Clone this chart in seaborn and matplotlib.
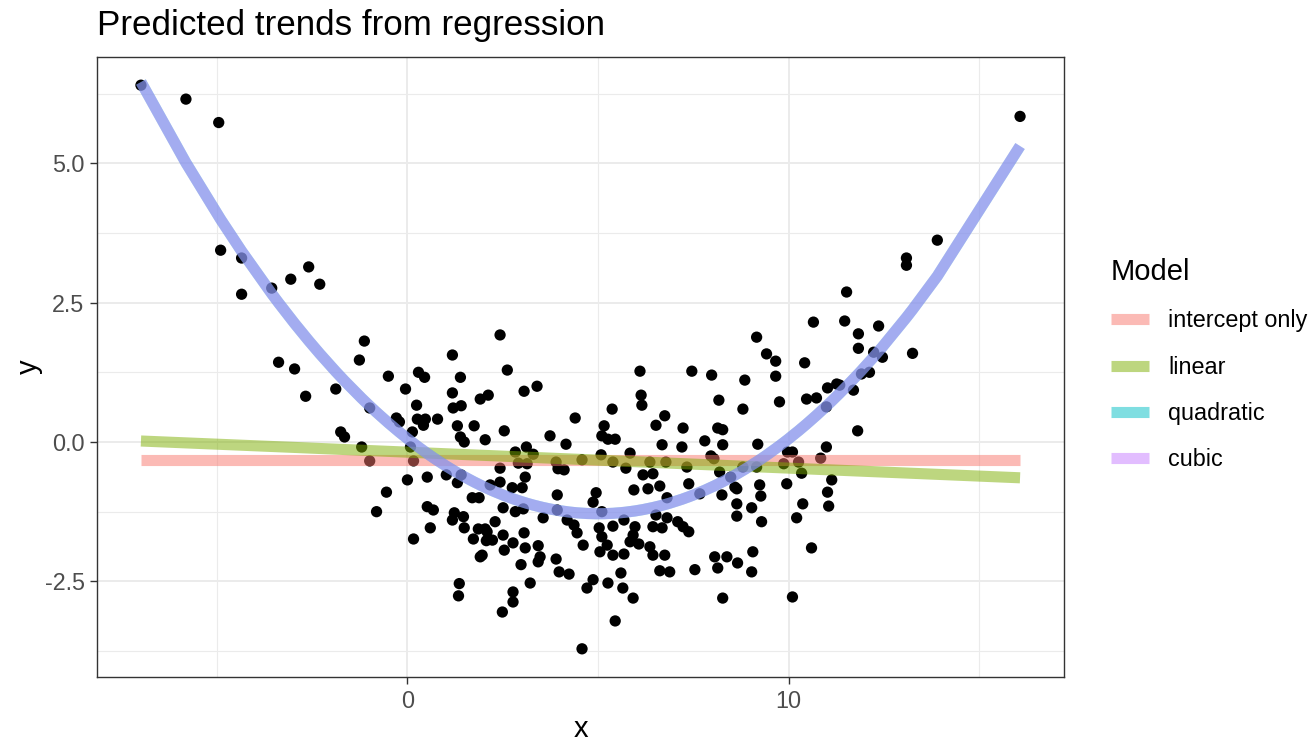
import numpy as np
import pandas as pd
import matplotlib
matplotlib.use("Agg")
import matplotlib.pyplot as plt
import seaborn as sns
from matplotlib.lines import Line2D

# ----------------------------------------------------
# Data
# ----------------------------------------------------
x_obs = [
    # far left, upper arm
    -6.99, -5.81, -4.95, -4.90, -4.35, -4.35, -3.56, -3.06, -2.59, -2.30, -3.38, -2.96, -2.67,
    # x -2..2, upper part of the cloud
    -1.13, -1.26, -1.88, -0.50, 0.29, 0.45, -0.05, 1.18, 1.39, 1.18, 1.91, 2.12, 0.24, 1.20,
    1.41, -0.99, -0.29, -0.21, 0.26, 0.47, 0.42, 0.79, 1.31, 1.75, 0.13, -1.75, -1.65, -1.20,
    0.08, 1.39, 1.49, 2.04, -0.99, 0.16, 0.00, 0.52, 1.02, 1.31, 1.41, -0.55, 2.17,
    # x 2..7, upper part
    2.43, 2.62, 3.06, 3.40, 4.40, 2.54, 3.74, 4.16, 6.10, 6.13, 6.15, 5.37, 6.75, 6.52,
    5.16, 5.10, 5.26, 5.45, 6.68, 2.83, 3.12, 3.30, 5.08, 5.84, 2.91, 3.14, 2.43, 3.90,
    3.95, 4.11, 4.58, 5.39, 5.73, 6.36, 6.78, 3.09, 2.43, 6.18, 6.44, 2.75, 3.01, 3.93,
    4.95, 5.94, 6.62, 6.31,
    # x 7..11, upper part
    10.65, 9.16, 9.42, 9.66, 10.42, 7.46, 7.98, 8.85, 9.66, 8.17, 8.80, 9.76, 10.47, 10.73,
    11.02, 11.26, 10.99, 7.23, 8.14, 8.27, 7.20, 7.80, 8.27, 9.19, 9.97, 10.10, 10.99, 7.33,
    7.96, 8.04, 8.19, 8.80, 9.16, 9.87, 10.26, 10.84, 10.34, 8.48, 11.13, 7.38, 8.59, 9.24,
    9.95, 11.02, 7.67, 8.25,
    # x -1..2, lower part
    -0.81, 0.52, 0.68, 0.60, 0.16, 1.18, 1.23, 1.47, 1.49, 1.70, 1.88, 1.86, 2.04, 1.73,
    2.07, 1.91, 1.36, 1.34,
    # x 2..7, lower part
    2.51, 2.83, 3.04, 2.30, 2.09, 2.23, 2.51, 1.96, 2.54, 2.77, 3.06, 3.09, 3.43, 3.48,
    3.43, 2.98, 3.22, 2.77, 2.77, 2.49, 3.56, 3.93, 4.19, 4.37, 4.45, 3.90, 3.98, 4.24,
    4.61, 4.71, 4.87, 4.87, 5.10, 5.03, 5.10, 5.24, 5.05, 5.39, 5.39, 5.68, 5.68, 5.97,
    5.92, 5.84, 6.07, 5.60, 5.26, 5.65, 5.92, 5.45, 4.58, 6.36, 6.44, 6.75, 6.44, 6.68,
    6.62, 6.88, 6.52, 6.81,
    # x 7..11, lower part
    8.64, 8.64, 8.64, 9.03, 9.27, 9.29, 6.81, 7.09, 7.23, 7.38, 7.54, 8.06, 8.38, 8.14,
    8.66, 9.06, 9.03, 8.27, 10.37, 10.21, 11.05, 10.60, 10.10,
    # far right, upper arm
    16.07, 13.90, 13.09, 13.09, 11.52, 11.47, 11.83, 12.36, 11.83, 12.23, 12.46, 13.25,
    11.91, 12.12, 11.34, 11.70, 11.81,
]
y_obs = [
    # far left, upper arm
    6.40, 6.15, 5.73, 3.44, 3.30, 2.65, 2.76, 2.92, 3.14, 2.83, 1.43, 1.31, 0.82,
    # x -2..2, upper part of the cloud
    1.81, 1.47, 0.95, 1.18, 1.25, 1.16, 0.95, 1.56, 1.16, 0.88, 0.77, 0.84, 0.66, 0.61,
    0.65, 0.61, 0.43, 0.36, 0.41, 0.41, 0.30, 0.41, 0.29, 0.29, 0.18, 0.18, 0.09, -0.09,
    -0.09, 0.09, 0.00, 0.04, -0.34, -0.34, -0.68, -0.63, -0.59, -0.73, -0.59, -0.90, -0.77,
    # x 2..7, upper part
    1.92, 1.29, 0.91, 1.00, 0.43, 0.20, 0.11, -0.04, 1.27, 0.84, 0.66, 0.59, 0.47, 0.30,
    0.29, 0.11, 0.05, 0.05, -0.05, -0.18, -0.09, -0.22, -0.23, -0.20, -0.38, -0.39, -0.47, -0.36,
    -0.48, -0.50, -0.32, -0.36, -0.47, -0.36, -0.36, -0.63, -0.72, -0.59, -0.57, -0.82, -0.82, -0.95,
    -0.91, -0.86, -0.79, -0.84,
    # x 7..11, upper part
    2.15, 1.88, 1.58, 1.45, 1.42, 1.27, 1.20, 1.11, 1.18, 0.75, 0.59, 0.72, 0.77, 0.79,
    0.97, 1.04, 0.63, 0.25, 0.25, 0.22, -0.09, 0.02, -0.05, -0.04, -0.18, -0.18, -0.09, -0.45,
    -0.25, -0.30, -0.54, -0.45, -0.45, -0.39, -0.36, -0.29, -0.56, -0.63, -0.68, -0.75, -0.81, -0.77,
    -0.75, -0.90, -0.93, -0.95,
    # x -1..2, lower part
    -1.25, -1.16, -1.22, -1.54, -1.74, -1.40, -1.27, -1.34, -1.54, -1.00, -1.00, -1.56, -1.56, -1.74,
    -1.77, -2.06, -2.54, -2.76,
    # x 2..7, lower part
    -1.18, -1.25, -1.20, -1.43, -1.61, -1.76, -1.67, -2.03, -1.94, -1.81, -1.63, -1.90, -1.86, -2.06,
    -2.15, -2.20, -2.53, -2.69, -2.87, -3.05, -1.36, -1.22, -1.40, -1.49, -1.63, -2.10, -2.33, -2.37,
    -1.85, -2.62, -2.47, -1.08, -1.25, -1.54, -1.70, -1.85, -1.97, -2.03, -1.51, -1.40, -2.01, -1.52,
    -1.67, -1.79, -1.83, -2.35, -2.53, -2.62, -2.80, -3.21, -3.71, -1.88, -2.03, -2.03, -1.52, -1.54,
    -2.31, -2.33, -1.31, -1.00,
    # x 7..11, lower part
    -0.84, -1.11, -1.33, -1.18, -0.97, -1.43, -1.36, -1.43, -1.52, -1.61, -2.29, -2.06, -2.06, -2.26,
    -2.17, -1.97, -2.33, -2.80, -1.11, -1.36, -1.15, -1.90, -2.78,
    # far right, upper arm
    5.84, 3.62, 3.30, 3.17, 2.69, 2.17, 1.94, 2.08, 1.68, 1.61, 1.52, 1.59,
    1.22, 1.25, 1.02, 0.93, 0.20,
]

model_names = ["intercept only", "linear", "quadratic", "cubic"]
model_degrees = [0, 1, 2, 3]
model_colors = ["#F8766D", "#7CAE00", "#00BFC4", "#C77CFF"]

x_major = [0, 10]
x_major_labels = ["0", "10"]
x_minor = [-5, 5, 15]
y_major = [-2.5, 0.0, 2.5, 5.0]
y_major_labels = ["-2.5", "0.0", "2.5", "5.0"]
y_minor = [-3.75, -1.25, 1.25, 3.75, 6.25]

df = pd.DataFrame({"x": x_obs, "y": y_obs})

# Predicted values of each polynomial model at the observed x
frames = []
for name, deg in zip(model_names, model_degrees):
    coefs = np.polyfit(df["x"], df["y"], deg)
    frames.append(pd.DataFrame({"x": df["x"], "y": np.polyval(coefs, df["x"]), "Model": name}))
pred = pd.concat(frames, ignore_index=True)

# ----------------------------------------------------
# Plot
# ----------------------------------------------------
sns.set_style("white")
plt.rcParams["font.family"] = ["Liberation Sans", "DejaVu Sans"]
plt.rcParams["text.color"] = "black"

W, H = 1313, 745
fig = plt.figure(figsize=(W / 100, H / 100), dpi=100)
ax = fig.add_axes([97 / W, 1 - 677 / H, (1064 - 97) / W, (677 - 57) / H])

sns.scatterplot(data=df, x="x", y="y", color="black", s=66, edgecolor="none",
                linewidth=0, ax=ax, zorder=2)
sns.lineplot(data=pred, x="x", y="y", hue="Model", hue_order=model_names,
             palette=model_colors, linewidth=8, alpha=0.5, estimator=None,
             legend=False, solid_capstyle="butt", ax=ax, zorder=3)

xr = df["x"].max() - df["x"].min()
yr = df["y"].max() - df["y"].min()
ax.set_xlim(df["x"].min() - 0.05 * xr, df["x"].max() + 0.05 * xr)
ax.set_ylim(df["y"].min() - 0.05 * yr, df["y"].max() + 0.05 * yr)

ax.set_xticks(x_major)
ax.set_xticklabels(x_major_labels)
ax.set_xticks(x_minor, minor=True)
ax.set_yticks(y_major)
ax.set_yticklabels(y_major_labels)
ax.set_yticks(y_minor, minor=True)

ax.grid(which="major", color="#EBEBEB", linewidth=1.4)
ax.grid(which="minor", color="#EBEBEB", linewidth=0.8)
ax.set_axisbelow(True)

for sp in ax.spines.values():
    sp.set_visible(True)
    sp.set_color("#333333")
    sp.set_linewidth(1.0)

ax.tick_params(which="major", length=5, width=1, color="#333333",
               labelsize=16.8, labelcolor="#4D4D4D", pad=4, bottom=True, left=True)
ax.tick_params(which="minor", length=0)

ax.set_xlabel("x", fontsize=21, color="black", labelpad=2)
ax.set_ylabel("y", fontsize=21, color="black", labelpad=1)
ax.set_title("Predicted trends from regression", loc="left", fontsize=25.2,
             color="black", pad=16)

handles = [Line2D([0], [0], color=c, lw=8, alpha=0.5, solid_capstyle="butt")
           for c in model_colors]
leg = fig.legend(handles, model_names, loc="upper left", bbox_to_anchor=(1111 / W, 1 - 258 / H),
                 frameon=False, title="Model", title_fontsize=21, fontsize=16.8,
                 borderpad=0, borderaxespad=0, handlelength=1.63, handletextpad=0.82,
                 labelspacing=1.0, alignment="left")
for t in leg.get_texts():
    t.set_color("black")
leg.get_title().set_color("black")

fig.savefig("out.png", dpi=100)
